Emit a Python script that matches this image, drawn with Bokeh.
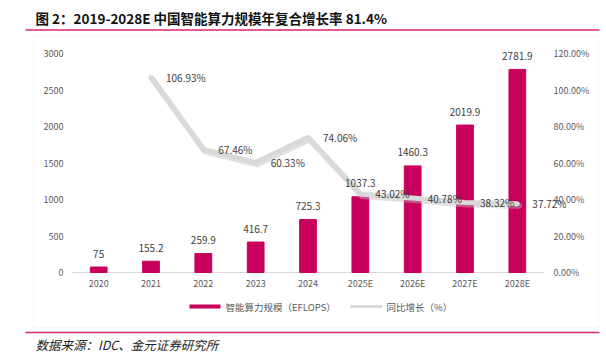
from bokeh.plotting import figure
from bokeh.models import (FactorRange, Range1d, ColumnDataSource, Label, BoxAnnotation)
from bokeh.transform import dodge
from bokeh.core.properties import value
from bokeh.embed import file_html
from bokeh.resources import INLINE

# ---------------- data ----------------
years = ["2020", "2021", "2022", "2023", "2024", "2025E", "2026E", "2027E", "2028E"]
compute_eflops = [75, 155.2, 259.9, 416.7, 725.3, 1037.3, 1460.3, 2019.9, 2781.9]
growth_years = ["2021", "2022", "2023", "2024", "2025E", "2026E", "2027E", "2028E"]
growth_pct = [106.93, 67.46, 60.33, 74.06, 43.02, 40.78, 38.32, 37.72]
left_ticks = [0, 500, 1000, 1500, 2000, 2500, 3000]
right_ticks = [0, 20, 40, 60, 80, 100, 120]

title_text = "图 2：2019-2028E 中国智能算力规模年复合增长率 81.4%"
source_text = "数据来源：IDC、金元证券研究所"
legend_bar = "智能算力规模（EFLOPS）"
legend_line = "同比增长（%）"

FONT = "Noto Sans CJK SC"
BAR_COLOR = "#C8005C"
LINE_COLOR = "#D9D9D9"
PINK = "#D9256F"
TXT = "#595959"

# ---------------- layout (canvas pixels) ----------------
W, H = 606, 357
BORDER_L = 9                 # the frame covers the canvas except a thin left strip
PLOT_TOP, PLOT_BOTTOM = 53, 272   # where the value 0 and the top tick sit
LEFT_MAX, RIGHT_MAX = 3000, 120
px_left = (PLOT_BOTTOM - PLOT_TOP) / LEFT_MAX
px_right = (PLOT_BOTTOM - PLOT_TOP) / RIGHT_MAX


def SX(cx):
    return cx - BORDER_L


def SY(cy):
    return H - cy


bar_src = ColumnDataSource(dict(
    year=years,
    val=compute_eflops,
    lbl=[f"{v:g}" for v in compute_eflops],
))
line_src = ColumnDataSource(dict(
    year=growth_years,
    g=growth_pct,
    lbl=[f"{v:.2f}%" for v in growth_pct],
))
lt_src = ColumnDataSource(dict(
    x=[years[0]] * len(left_ticks), y=left_ticks, lbl=[str(t) for t in left_ticks]))
rt_src = ColumnDataSource(dict(
    x=[years[-1]] * len(right_ticks), y=right_ticks, lbl=[f"{t:.2f}%" for t in right_ticks]))
xt_src = ColumnDataSource(dict(x=years, y=[0] * len(years)))
axis_src = ColumnDataSource(dict(x0=[years[0]], x1=[years[-1]], y=[0]))

p = figure(width=W, height=H,
           x_range=FactorRange(*years, range_padding=1.204, range_padding_units="absolute"),
           y_range=Range1d(-(H - PLOT_BOTTOM) / px_left, LEFT_MAX + PLOT_TOP / px_left),
           x_axis_location=None, y_axis_location=None,
           output_backend="svg", toolbar_location=None,
           min_border_left=BORDER_L, min_border_right=0,
           min_border_top=0, min_border_bottom=0)
p.title.visible = False
p.outline_line_color = None
p.background_fill_color = "white"
p.border_fill_color = "white"
p.xgrid.visible = False
p.ygrid.visible = False
p.extra_y_ranges = {"pct": Range1d(-(H - PLOT_BOTTOM) / px_right,
                                   RIGHT_MAX + PLOT_TOP / px_right)}

# outer frame box and pink rules
p.add_layout(BoxAnnotation(left=SX(33), right=SX(598), top=SY(35), bottom=SY(327),
                           left_units="screen", right_units="screen",
                           top_units="screen", bottom_units="screen",
                           fill_color=None, line_color="#E4E4E4", line_width=1.5,
                           level="underlay"))
for yy in (29.5, 332):
    p.add_layout(BoxAnnotation(left=SX(25), right=SX(599), top=SY(yy - 0.8), bottom=SY(yy + 0.8),
                               left_units="screen", right_units="screen",
                               top_units="screen", bottom_units="screen",
                               fill_color=PINK, fill_alpha=1, line_color=None,
                               level="underlay"))

# axes (tick labels and base line) drawn from the tick arrays through the scales
p.segment(x0=dodge("x0", -0.5, range=p.x_range), x1=dodge("x1", 0.5, range=p.x_range),
          y0="y", y1="y", source=axis_src, line_color=LINE_COLOR, line_width=1)
p.text(x=dodge("x", -0.5, range=p.x_range), y="y", text="lbl", source=lt_src,
       x_offset=-9, text_align="right", text_baseline="middle",
       text_font=value(FONT), text_font_size="9px", text_color=TXT)
p.text(x=dodge("x", 0.5, range=p.x_range), y="y", text="lbl", source=rt_src,
       y_range_name="pct", x_offset=10, text_align="left", text_baseline="middle",
       text_font=value(FONT), text_font_size="9px", text_color=TXT)
p.text(x="x", y="y", text="x", source=xt_src, y_offset=11, text_align="center",
       text_baseline="middle", text_font=value(FONT), text_font_size="9px", text_color=TXT)

# bars
p.vbar(x="year", top="val", width=0.32, source=bar_src, color=BAR_COLOR)

# growth line with soft shadow
p.line(x=dodge("year", 0.03, range=p.x_range), y=dodge("g", -1.1), source=line_src,
       y_range_name="pct", line_color="#BDBDBD", line_alpha=0.45, line_width=6,
       line_join="round", line_cap="round")
p.line(x="year", y="g", source=line_src, y_range_name="pct",
       line_color=LINE_COLOR, line_width=5, line_join="round", line_cap="round")

# data labels
p.text(x="year", y="val", text="lbl", source=bar_src, text_align="center",
       text_baseline="middle", y_offset=-13.5, text_font=value(FONT),
       text_font_size="10px", text_color="#404040")
p.text(x="year", y="g", text="lbl", source=line_src, y_range_name="pct",
       text_align="left", text_baseline="middle", x_offset=15, text_font=value(FONT),
       text_font_size="10px", text_color="#404040")

# legend (manual)
p.add_layout(BoxAnnotation(left=SX(189), right=SX(220), top=SY(304), bottom=SY(308),
                           left_units="screen", right_units="screen",
                           top_units="screen", bottom_units="screen",
                           fill_color=BAR_COLOR, fill_alpha=1, line_color=None))
p.add_layout(BoxAnnotation(left=SX(350), right=SX(382), top=SY(304.5), bottom=SY(307.5),
                           left_units="screen", right_units="screen",
                           top_units="screen", bottom_units="screen",
                           fill_color=LINE_COLOR, fill_alpha=1, line_color=None))
p.add_layout(Label(x=SX(225), y=SY(306), x_units="screen", y_units="screen",
                   text=legend_bar, text_baseline="middle", text_font=FONT,
                   text_font_size="9.5px", text_color=TXT))
p.add_layout(Label(x=SX(386), y=SY(306), x_units="screen", y_units="screen",
                   text=legend_line, text_baseline="middle", text_font=FONT,
                   text_font_size="9.5px", text_color=TXT))

# title and source
p.add_layout(Label(x=SX(35), y=SY(17.5), x_units="screen", y_units="screen",
                   text=title_text, text_baseline="middle", text_font=FONT,
                   text_font_style="bold", text_font_size="13.5px", text_color="#111111"))
p.add_layout(Label(x=SX(35), y=SY(344), x_units="screen", y_units="screen",
                   text=source_text, text_baseline="middle", text_font=FONT,
                   text_font_style="italic", text_font_size="12.5px", text_color="#222222"))

open("out.html", "w").write(file_html(p, INLINE))
